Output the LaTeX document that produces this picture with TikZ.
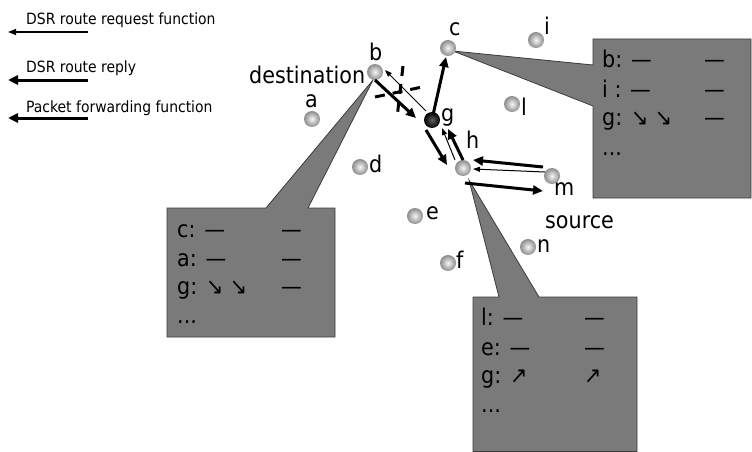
\documentclass[tikz,border=0pt]{standalone}
\usepackage{fontspec}
\setmainfont{DejaVu Sans Condensed}
\usetikzlibrary{arrows.meta}
\definecolor{callgray}{RGB}{122,122,122}
\definecolor{calledge}{RGB}{60,60,60}
\begin{document}
\begin{tikzpicture}[x=1pt,y=-1pt,
  ball/.style={circle, minimum size=16pt, inner sep=0pt, shade, inner color=gray!8, outer color=gray!90},
  darkball/.style={circle, minimum size=16pt, inner sep=0pt, shade, inner color=gray!75!black, outer color=black},
  lbl/.style={anchor=base west, inner sep=0pt, font=\fontsize{23}{23}\selectfont},
  ctext/.style={anchor=base west, inner sep=0pt, font=\fontsize{23}{23}\selectfont},
  leg/.style={anchor=base west, inner sep=0pt, font=\fontsize{15.5}{16}\selectfont},
  thickarr/.style={line width=3pt, -{Triangle[length=10pt,width=9pt]}},
  thinarr/.style={line width=1pt, -{Triangle[length=7pt,width=5pt]}},
  legthin/.style={line width=1.5pt, -{Triangle[length=8pt,width=6pt]}},
  callout/.style={fill=callgray, draw=calledge, line width=0.8pt},
  cut/.style={line width=3pt, dash pattern=on 10pt off 8pt}]
\useasboundingbox (0,0) rectangle (752,452);
\clip (0,0) rectangle (752,452);

% legend
\node[leg] (t1) at (26,25) {DSR route request function};
\node[leg] (t2) at (26,73) {DSR route reply};
\node[leg] (t3) at (26,112) {Packet forwarding function};
\coordinate (l1a) at (88,32);  \coordinate (l1b) at (8,32);
\coordinate (l2a) at (88,80);  \coordinate (l2b) at (8,80);
\coordinate (l3a) at (88,118); \coordinate (l3b) at (8,118);
\draw[legthin] (l1a) -- (l1b);
\draw[thickarr] (l2a) -- (l2b);
\draw[thickarr] (l3a) -- (l3b);

% callouts
\draw[callout] (167,208) -- (266,208) -- (373,80) -- (308,208) -- (335,208) -- (335,337) -- (167,337) -- cycle;
\draw[callout] (593,39) -- (751,39) -- (751,198) -- (593,198) -- (593,106) -- (453,51) -- (593,65) -- cycle;
\draw[callout] (473,297) -- (499,297) -- (469,180) -- (539,297) -- (637,297) -- (637,451.5) -- (473,451.5) -- cycle;

% callout texts
\node[ctext] (lc1) at (177,237) {c: —};
\node[ctext] (lc1r) at (281,237) {—};
\node[ctext] (lc2) at (177,266) {a: —};
\node[ctext] (lc2r) at (281,266) {—};
\node[ctext] (lc3) at (177,294) {g: ↘ ↘};
\node[ctext] (lc3r) at (281,294) {—};
\node[ctext] (lc4) at (177,323) {...};

\node[ctext] (rc1) at (602,67) {b: —};
\node[ctext] (rc1r) at (704,67) {—};
\node[ctext] (rc2) at (602,97) {i : —};
\node[ctext] (rc2r) at (704,97) {—};
\node[ctext] (rc3) at (602,125) {g: ↘ ↘};
\node[ctext] (rc3r) at (704,125) {—};
\node[ctext] (rc4) at (602,155) {...};

\node[ctext] (bc1) at (481,325) {l: —};
\node[ctext] (bc1r) at (584,325) {—};
\node[ctext] (bc2) at (481,355) {e: —};
\node[ctext] (bc2r) at (584,355) {—};
\node[ctext] (bc3) at (481,383) {g: ↗};
\node[ctext] (bc3r) at (584,383) {↗};
\node[ctext] (bc4) at (481,412) {...};

% nodes
\node[ball] (b) at (375,72) {};
\node[ball] (c) at (448,48) {};
\node[ball] (i) at (536,40) {};
\node[ball] (l) at (512,104) {};
\node[ball] (a) at (312,119) {};
\node[darkball] (g) at (432,120) {};
\node[ball] (h) at (463,168) {};
\node[ball] (m) at (552,176) {};
\node[ball] (d) at (360,167) {};
\node[ball] (e) at (415,216) {};
\node[ball] (f) at (448,263) {};
\node[ball] (n) at (528,247) {};

% labels
\node[lbl] (Lb) at (369,60) {b};
\node[lbl] (Ldest) at (249,83) {destination};
\node[lbl] (La) at (305,107) {a};
\node[lbl] (Ld) at (369,172) {d};
\node[lbl] (Lc) at (449,36) {c};
\node[lbl] (Li) at (544,35) {i};
\node[lbl] (Ll) at (521,115) {l};
\node[lbl] (Lg) at (441,121) {g};
\node[lbl] (Lh) at (466,148) {h};
\node[lbl] (Lm) at (554,195) {m};
\node[lbl] (Lsrc) at (545,228) {source};
\node[lbl] (Le) at (426,219) {e};
\node[lbl] (Lf) at (456,268) {f};
\node[lbl] (Ln) at (537,252) {n};

% broken link mark
\coordinate (x1a) at (375,97); \coordinate (x1b) at (427,86);
\coordinate (x2a) at (403,66); \coordinate (x2b) at (397,118);
\draw[cut] (x1a) -- (x1b);
\draw[cut] (x2a) -- (x2b);

% arrows
\draw[thickarr] ([shift={(0,8)}]b.center) -- ([shift={(-16,-2)}]g.center);
\draw[thinarr] ([shift={(-6,-9)}]g.center) -- ([shift={(10,-2)}]b.center);
\draw[thickarr] ([shift={(1,-5)}]g.center) -- ([shift={(-2,9)}]c.center);
\draw[thickarr] ([shift={(-6,10)}]g.center) -- ([shift={(-16,-3)}]h.center);
\draw[thinarr] ([shift={(-8,-8)}]h.center) -- ([shift={(10,8)}]g.center);
\draw[thickarr] ([shift={(0,-8)}]h.center) -- ([shift={(16,9)}]g.center);
\draw[thickarr] ([shift={(-9,-9)}]m.center) -- ([shift={(10,-8)}]h.center);
\draw[thinarr] ([shift={(-7,-4)}]m.center) -- ([shift={(10,1)}]h.center);
\draw[thickarr] ([shift={(2,15)}]h.center) -- ([shift={(-9,15)}]m.center);
\end{tikzpicture}
\end{document}
